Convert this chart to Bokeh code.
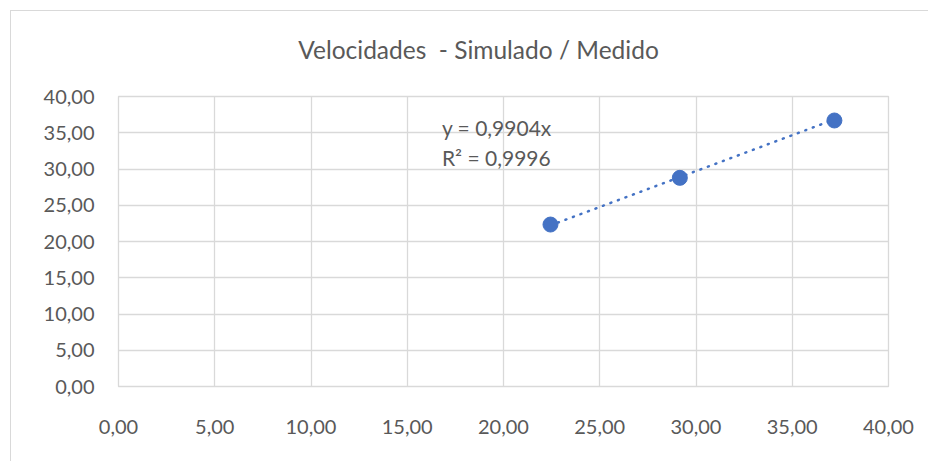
from bokeh.plotting import figure
from bokeh.models import Label, Range1d, FixedTicker, CustomJSTickFormatter, Div
from bokeh.layouts import column
from bokeh.embed import file_html
from bokeh.resources import INLINE

# ---- data ----
title_text = "Velocidades \u00a0- Simulado / Medido"
x_vals = [22.44, 29.16, 37.19]
y_vals = [22.34, 28.78, 36.69]
trend_slope = 0.9904
trend_r2 = 0.9996
x_ticks = [0, 5, 10, 15, 20, 25, 30, 35, 40]
y_ticks = [0, 5, 10, 15, 20, 25, 30, 35, 40]

FONT = "Lato"
TXT = "#595959"
GRID = "#d9d9d9"
BLUE = "#4472C4"

W = 917
TITLE_H = 62

title_div = Div(text=title_text, width=W, height=TITLE_H, margin=(0, 0, 0, 0),
                styles={"font-family": FONT, "font-size": "24.5px", "color": TXT,
                        "text-align": "center", "line-height": "78px",
                        "text-indent": "18px", "white-space": "pre",
                        "background-color": "white"})

p = figure(frame_width=770, frame_height=290,
           min_border_left=107, min_border_right=40,
           min_border_top=85 - TITLE_H, min_border_bottom=75,
           x_range=Range1d(0, 40), y_range=Range1d(0, 40),
           output_backend="svg", toolbar_location=None,
           background_fill_color="white", border_fill_color="white")

fmt = CustomJSTickFormatter(code="return tick.toFixed(2).replace('.', ',');")
for ax in (p.xaxis[0], p.yaxis[0]):
    ax.formatter = fmt
    ax.major_tick_line_color = None
    ax.minor_tick_line_color = None
    ax.axis_line_color = None
    ax.major_label_text_font = FONT
    ax.major_label_text_font_size = "20px"
    ax.major_label_text_color = TXT
p.xaxis[0].ticker = FixedTicker(ticks=x_ticks)
p.yaxis[0].ticker = FixedTicker(ticks=y_ticks)
p.xaxis[0].major_label_standoff = 27
p.yaxis[0].major_label_standoff = 18

p.xgrid.ticker = FixedTicker(ticks=x_ticks)
p.ygrid.ticker = FixedTicker(ticks=y_ticks)
p.grid.grid_line_color = GRID
p.grid.grid_line_width = 1.3
p.outline_line_color = GRID
p.outline_line_width = 1.3

# trendline y = slope * x over data range
tx = [min(x_vals), max(x_vals)]
ty = [trend_slope * v for v in tx]
p.line(tx, ty, line_color=BLUE, line_width=2.5, line_dash="1 7", line_cap="round")

p.scatter(x_vals, y_vals, size=15, fill_color=BLUE, line_color=BLUE, line_width=1)

eq1 = "y = " + f"{trend_slope:.4f}".replace(".", ",") + "x"
eq2 = "R² = " + f"{trend_r2:.4f}".replace(".", ",")
p.add_layout(Label(x=16.8, y=35.7, text=eq1, text_font=FONT, text_font_size="21px",
                   text_color=TXT, text_baseline="middle"))
p.add_layout(Label(x=16.8, y=31.6, text=eq2, text_font=FONT, text_font_size="21px",
                   text_color=TXT, text_baseline="middle"))

layout = column(title_div, p, spacing=0,
                styles={"border-left": "1px solid #d9d9d9", "border-top": "1px solid #d9d9d9",
                        "margin-left": "10px", "margin-top": "10px",
                        "background-color": "white"})

open("out.html", "w").write(file_html(layout, INLINE))
